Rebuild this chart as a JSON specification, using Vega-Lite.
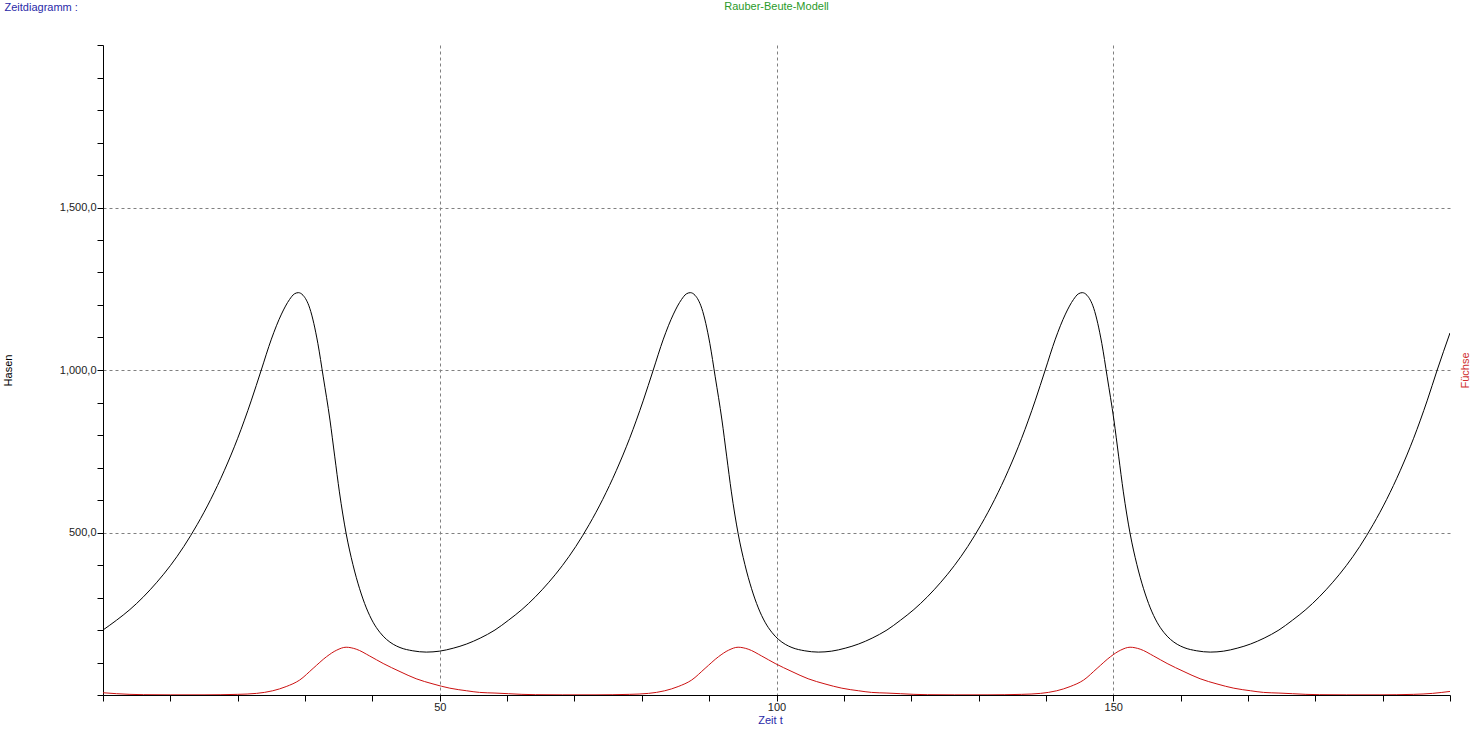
{
  "$schema": "https://vega.github.io/schema/vega-lite/v6.json",
  "autosize": {"type": "none"},
  "padding": {"left": 103, "top": 45, "right": 25, "bottom": 43},
  "width": 1347,
  "height": 650,
  "background": "white",
  "config": {
    "view": {"stroke": null},
    "font": "Liberation Sans"
  },
  "title": {
    "text": "Rauber-Beute-Modell",
    "anchor": "middle",
    "frame": "group",
    "orient": "top",
    "offset": 0,
    "dy": 20,
    "baseline": "alphabetic",
    "fontSize": 11,
    "fontWeight": "normal",
    "font": "Liberation Sans",
    "color": "#2a9a2a"
  },
  "datasets": {
    "hasen": [
      {"t": 0, "wert": 200}, {"t": 2, "wert": 230}, {"t": 4, "wert": 263}, {"t": 6, "wert": 302}, {"t": 8, "wert": 347}, {"t": 10, "wert": 398}, {"t": 12, "wert": 457}, {"t": 14, "wert": 525}, {"t": 16, "wert": 602}, {"t": 18, "wert": 690}, {"t": 20, "wert": 790}, {"t": 22, "wert": 905}, {"t": 23.5, "wert": 1000}, {"t": 25.0, "wert": 1095}, {"t": 26.5, "wert": 1172}, {"t": 27.7, "wert": 1217}, {"t": 28.4, "wert": 1234}, {"t": 29.0, "wert": 1238}, {"t": 29.7, "wert": 1230}, {"t": 30.7, "wert": 1190}, {"t": 31.9, "wert": 1082}, {"t": 32.7, "wert": 979}, {"t": 33.7, "wert": 846}, {"t": 34.4, "wert": 735}, {"t": 35.1, "wert": 625}, {"t": 36.1, "wert": 497}, {"t": 37.1, "wert": 402}, {"t": 38.1, "wert": 327}, {"t": 39.1, "wert": 268}, {"t": 40.1, "wert": 224}, {"t": 41.1, "wert": 193}, {"t": 42.1, "wert": 171}, {"t": 43.1, "wert": 156}, {"t": 44.1, "wert": 146}, {"t": 46.0, "wert": 136}, {"t": 48.0, "wert": 132}, {"t": 50.0, "wert": 135}, {"t": 52.0, "wert": 144}, {"t": 54.0, "wert": 157}, {"t": 56.0, "wert": 175},
      {"t": 58.2, "wert": 200}, {"t": 60.2, "wert": 230}, {"t": 62.2, "wert": 263}, {"t": 64.2, "wert": 302}, {"t": 66.2, "wert": 347}, {"t": 68.2, "wert": 398}, {"t": 70.2, "wert": 457}, {"t": 72.2, "wert": 525}, {"t": 74.2, "wert": 602}, {"t": 76.2, "wert": 690}, {"t": 78.2, "wert": 790}, {"t": 80.2, "wert": 905}, {"t": 81.7, "wert": 1000}, {"t": 83.2, "wert": 1095}, {"t": 84.7, "wert": 1172}, {"t": 85.9, "wert": 1217}, {"t": 86.6, "wert": 1234}, {"t": 87.2, "wert": 1238}, {"t": 87.9, "wert": 1230}, {"t": 88.9, "wert": 1190}, {"t": 90.1, "wert": 1082}, {"t": 90.9, "wert": 979}, {"t": 91.9, "wert": 846}, {"t": 92.6, "wert": 735}, {"t": 93.3, "wert": 625}, {"t": 94.3, "wert": 497}, {"t": 95.3, "wert": 402}, {"t": 96.3, "wert": 327}, {"t": 97.3, "wert": 268}, {"t": 98.3, "wert": 224}, {"t": 99.3, "wert": 193}, {"t": 100.3, "wert": 171}, {"t": 101.3, "wert": 156}, {"t": 102.3, "wert": 146}, {"t": 104.2, "wert": 136}, {"t": 106.2, "wert": 132}, {"t": 108.2, "wert": 135}, {"t": 110.2, "wert": 144}, {"t": 112.2, "wert": 157}, {"t": 114.2, "wert": 175},
      {"t": 116.4, "wert": 200}, {"t": 118.4, "wert": 230}, {"t": 120.4, "wert": 263}, {"t": 122.4, "wert": 302}, {"t": 124.4, "wert": 347}, {"t": 126.4, "wert": 398}, {"t": 128.4, "wert": 457}, {"t": 130.4, "wert": 525}, {"t": 132.4, "wert": 602}, {"t": 134.4, "wert": 690}, {"t": 136.4, "wert": 790}, {"t": 138.4, "wert": 905}, {"t": 139.9, "wert": 1000}, {"t": 141.4, "wert": 1095}, {"t": 142.9, "wert": 1172}, {"t": 144.1, "wert": 1217}, {"t": 144.8, "wert": 1234}, {"t": 145.4, "wert": 1238}, {"t": 146.1, "wert": 1230}, {"t": 147.1, "wert": 1190}, {"t": 148.3, "wert": 1082}, {"t": 149.1, "wert": 979}, {"t": 150.1, "wert": 846}, {"t": 150.8, "wert": 735}, {"t": 151.5, "wert": 625}, {"t": 152.5, "wert": 497}, {"t": 153.5, "wert": 402}, {"t": 154.5, "wert": 327}, {"t": 155.5, "wert": 268}, {"t": 156.5, "wert": 224}, {"t": 157.5, "wert": 193}, {"t": 158.5, "wert": 171}, {"t": 159.5, "wert": 156}, {"t": 160.5, "wert": 146}, {"t": 162.4, "wert": 136}, {"t": 164.4, "wert": 132}, {"t": 166.4, "wert": 135}, {"t": 168.4, "wert": 144}, {"t": 170.4, "wert": 157}, {"t": 172.4, "wert": 175},
      {"t": 174.6, "wert": 200}, {"t": 176.6, "wert": 230}, {"t": 178.6, "wert": 263}, {"t": 180.6, "wert": 302}, {"t": 182.6, "wert": 347}, {"t": 184.6, "wert": 398}, {"t": 186.6, "wert": 457}, {"t": 188.6, "wert": 525}, {"t": 190.6, "wert": 602}, {"t": 192.6, "wert": 690}, {"t": 194.6, "wert": 790}, {"t": 196.6, "wert": 905}, {"t": 198.1, "wert": 1000}, {"t": 200, "wert": 1114}
    ],
    "fuechse": [
      {"t": 0, "wert": 7}, {"t": 2, "wert": 4}, {"t": 4, "wert": 2}, {"t": 6, "wert": 1}, {"t": 10, "wert": 0.5}, {"t": 15, "wert": 0.5}, {"t": 20, "wert": 2}, {"t": 22.8, "wert": 5}, {"t": 25.2, "wert": 13}, {"t": 27.2, "wert": 26}, {"t": 29.2, "wert": 46}, {"t": 31.2, "wert": 82}, {"t": 33.2, "wert": 118}, {"t": 34.7, "wert": 138}, {"t": 36.1, "wert": 147}, {"t": 37.6, "wert": 141}, {"t": 39.6, "wert": 120}, {"t": 41.6, "wert": 97}, {"t": 44.1, "wert": 72}, {"t": 46.5, "wert": 50}, {"t": 49.0, "wert": 34}, {"t": 51.5, "wert": 21}, {"t": 54.0, "wert": 13}, {"t": 55.9, "wert": 8},
      {"t": 58.2, "wert": 6}, {"t": 60.2, "wert": 4}, {"t": 62.2, "wert": 2}, {"t": 64.2, "wert": 1}, {"t": 68.2, "wert": 0.5}, {"t": 73.2, "wert": 0.5}, {"t": 78.2, "wert": 2}, {"t": 81.0, "wert": 5}, {"t": 83.4, "wert": 13}, {"t": 85.4, "wert": 26}, {"t": 87.4, "wert": 46}, {"t": 89.4, "wert": 82}, {"t": 91.4, "wert": 118}, {"t": 92.9, "wert": 138}, {"t": 94.3, "wert": 147}, {"t": 95.8, "wert": 141}, {"t": 97.8, "wert": 120}, {"t": 99.8, "wert": 97}, {"t": 102.3, "wert": 72}, {"t": 104.7, "wert": 50}, {"t": 107.2, "wert": 34}, {"t": 109.7, "wert": 21}, {"t": 112.2, "wert": 13}, {"t": 114.1, "wert": 8},
      {"t": 116.4, "wert": 6}, {"t": 118.4, "wert": 4}, {"t": 120.4, "wert": 2}, {"t": 122.4, "wert": 1}, {"t": 126.4, "wert": 0.5}, {"t": 131.4, "wert": 0.5}, {"t": 136.4, "wert": 2}, {"t": 139.2, "wert": 5}, {"t": 141.6, "wert": 13}, {"t": 143.6, "wert": 26}, {"t": 145.6, "wert": 46}, {"t": 147.6, "wert": 82}, {"t": 149.6, "wert": 118}, {"t": 151.1, "wert": 138}, {"t": 152.5, "wert": 147}, {"t": 154.0, "wert": 141}, {"t": 156.0, "wert": 120}, {"t": 158.0, "wert": 97}, {"t": 160.5, "wert": 72}, {"t": 162.9, "wert": 50}, {"t": 165.4, "wert": 34}, {"t": 167.9, "wert": 21}, {"t": 170.4, "wert": 13}, {"t": 172.3, "wert": 8},
      {"t": 174.6, "wert": 6}, {"t": 176.6, "wert": 4}, {"t": 178.6, "wert": 2}, {"t": 180.6, "wert": 1}, {"t": 184.6, "wert": 0.5}, {"t": 189.6, "wert": 0.5}, {"t": 194.6, "wert": 2}, {"t": 197.4, "wert": 5}, {"t": 200, "wert": 11}
    ]
  },
  "layer": [
    {
      "data": {"name": "hasen"},
      "mark": {"type": "line", "color": "#000000", "strokeWidth": 1, "interpolate": "monotone", "clip": true},
      "encoding": {
        "x": {
          "field": "t", "type": "quantitative",
          "scale": {"domain": [0, 200], "nice": false, "zero": false},
          "axis": {
            "orient": "bottom",
            "values": [0, 10, 20, 30, 40, 50, 60, 70, 80, 90, 100, 110, 120, 130, 140, 150, 160, 170, 180, 190, 200],
            "labelExpr": "(datum.value == 50 || datum.value == 100 || datum.value == 150) ? datum.label : ''",
            "format": "d",
            "domainColor": "#000000",
            "domainWidth": 1,
            "tickColor": "#000000",
            "tickSize": 6,
            "labelFont": "Liberation Sans",
            "labelFontSize": 11,
            "labelColor": "#222222",
            "labelPadding": 0,
            "labelDx": -4,
            "grid": true,
            "gridColor": "#808080",
            "gridDash": [3, 3],
            "gridWidth": 1,
            "gridOpacity": {"condition": {"test": "datum.value == 50 || datum.value == 100 || datum.value == 150", "value": 1}, "value": 0},
            "title": "Zeit t",
            "titleFont": "Liberation Sans",
            "titleFontSize": 11,
            "titleFontWeight": "normal",
            "titleColor": "#2a2aa8",
            "titleX": 667,
            "titleY": 25,
            "titleAlign": "center",
            "titleBaseline": "middle"
          }
        },
        "y": {
          "field": "wert", "type": "quantitative",
          "scale": {"domain": [0, 2000], "nice": false},
          "axis": {
            "orient": "left",
            "values": [0, 100, 200, 300, 400, 500, 600, 700, 800, 900, 1000, 1100, 1200, 1300, 1400, 1500, 1600, 1700, 1800, 1900, 2000],
            "labelExpr": "(datum.value == 500 || datum.value == 1000 || datum.value == 1500) ? replace(format(datum.value, ',.1f'), '.', ',') : ''",
            "domainColor": "#000000",
            "domainWidth": 1,
            "tickColor": "#000000",
            "tickSize": 6,
            "labelFont": "Liberation Sans",
            "labelFontSize": 11,
            "labelColor": "#222222",
            "labelPadding": 1,
            "grid": true,
            "gridColor": "#808080",
            "gridDash": [3, 3],
            "gridWidth": 1,
            "gridOpacity": {"condition": {"test": "datum.value == 500 || datum.value == 1000 || datum.value == 1500", "value": 1}, "value": 0},
            "title": "Hasen",
            "titleFont": "Liberation Sans",
            "titleFontSize": 11,
            "titleFontWeight": "normal",
            "titleColor": "#000000",
            "titleAngle": -90,
            "titleX": -95,
            "titleY": 325,
            "titleAlign": "center",
            "titleBaseline": "middle"
          }
        }
      }
    },
    {
      "data": {"name": "fuechse"},
      "mark": {"type": "line", "color": "#cc1111", "strokeWidth": 1, "interpolate": "monotone", "clip": true},
      "encoding": {
        "x": {
          "field": "t", "type": "quantitative",
          "scale": {"domain": [0, 200], "nice": false, "zero": false},
          "axis": {
            "orient": "top",
            "domain": false,
            "ticks": false,
            "labels": false,
            "grid": false,
            "title": "Zeitdiagramm :",
            "titleFont": "Liberation Sans",
            "titleFontSize": 11,
            "titleFontWeight": "normal",
            "titleColor": "#2a2aa8",
            "titleX": -99,
            "titleY": -35,
            "titleAlign": "left",
            "titleBaseline": "alphabetic",
            "titleAngle": 0
          }
        },
        "y": {
          "field": "wert", "type": "quantitative",
          "scale": {"domain": [0, 2000], "nice": false},
          "axis": {
            "orient": "right",
            "domain": false,
            "ticks": false,
            "labels": false,
            "grid": false,
            "title": "Füchse",
            "titleFont": "Liberation Sans",
            "titleFontSize": 11,
            "titleFontWeight": "normal",
            "titleColor": "#d03030",
            "titleAngle": -90,
            "titleX": 15,
            "titleY": 325,
            "titleAlign": "center",
            "titleBaseline": "middle"
          }
        }
      }
    }
  ],
  "resolve": {"scale": {"x": "independent", "y": "independent"}}
}
